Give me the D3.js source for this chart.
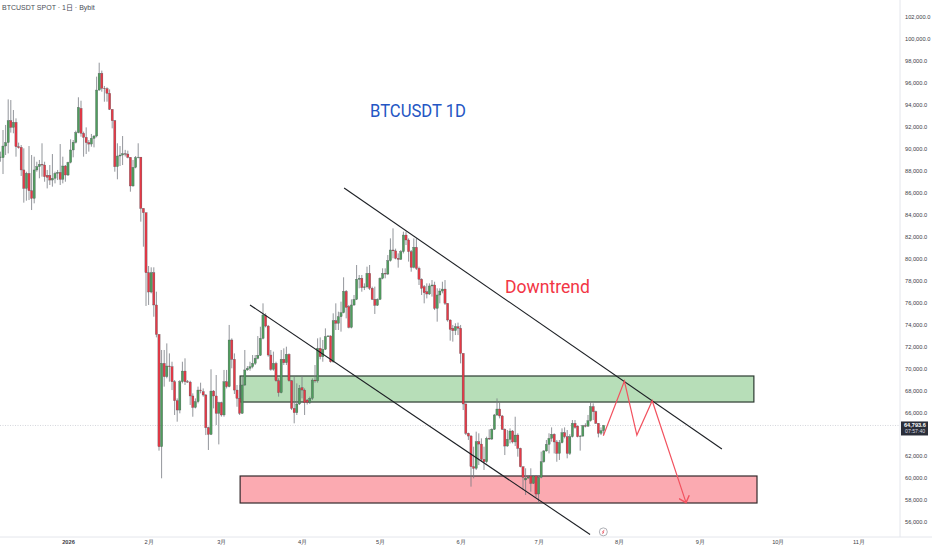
<!DOCTYPE html>
<html lang="zh">
<head>
  <meta charset="UTF-8">
  <title>BTCUSDT 1D</title>
  <style>
    body { margin: 0; background: #fff; }
    svg { display: block; }
    .axis text { font-family: "Liberation Sans", Arial, sans-serif; font-size: 5.7px; fill: #3c4048; }
    .axis path { stroke: #e4e6ec; }
  </style>
  <script src="https://d3js.org/d3.v7.min.js"></script>
</head>
<body>
  <svg width="932" height="550"></svg>
  <script>
    // daily candles, first one is 6 Dec 2025
    const opens = [
      89200,89190,90250,90560,92560,91950,92410,90190,90130,88070,
      86390,87760,86180,85480,88070,88370,88580,88520,87580,87580,
      87150,87310,87760,87850,87220,88430,87610,88760,89890,90590,
      91470,93680,91410,91040,90560,90430,90950,91160,95350,96870,
      95510,95480,95050,93590,92560,88370,89340,89430,89550,89520,89220,
      86610,88310,89190,89240,84570,84180,78710,76950,78710,75770,
      73090,62860,70450,69240,70210,70150,68780,67050,66200,68780,
      69750,68780,68750,67480,66440,66960,68020,67870,67570,64590,
      63980,67930,67480,65900,66870,65750,68780,68330,72580,70820,
      68020,67260,65900,68480,69850,70000,70150,70450,70910,71180,72730,
      74800,73850,71210,69910,70450,68870,67780,70820,70510,71270,
      68870,66350,65960,66750,68240,68020,67110,66900,67260,68930,
      68850,71820,71060,71730,72880,72950,70600,74340,74100,74700,
      75070,77010,75620,73730,75770,76280,78110,78200,77350,77420,
      78650,77290,76280,75740,76280,78200,78650,78590,79810,80780,
      80700,80020,79930,80630,82140,81690,80630,79200,81020,79110,
      78110,77440,76980,76770,77500,77590,75460,76680,77040,77220,
      75920,74400,73640,73430,73790,73650,71360,66750,64080,63830,
      61040,60890,63320,63100,61710,61490,63620,63560,64440,65750,
      66290,65660,64440,62920,63530,64290,63290,63920,62710,61040,
      59830,60000,60190,59520,60190,58550,60070,61490,62470,63070,
      63620,63990,63290,62250,63230,64140,63770,62250,63770,64990,
      64740,63770,63830,64770,64720,65230,66510,66050,64990,64080,64320
    ];
    const highs = [
      89740,91710,92170,94500,94440,93530,92770,90560,90340,90040,
      87910,90250,89430,89280,88820,88980,90500,88820,88070,88520,
      89520,87910,88070,90430,89280,88520,88820,90860,90800,91650,
      94690,94380,91560,91950,90800,91350,91250,96570,97840,97120,
      95720,95600,95410,93590,92620,90500,90250,91160,89900,89830,89220,
      88980,89340,90500,89240,84570,84180,79320,79200,79200,76980,
      73090,71670,71670,72270,71360,70600,68930,67260,68930,70600,
      70910,68930,68870,67720,67260,68330,68690,68170,67660,64680,
      69910,68020,69390,66960,66960,69850,69850,73950,72730,71360,
      68480,68480,69240,71670,70200,70600,71210,71210,72940,73790,75920,
      75010,73950,71670,71520,70600,69090,71670,71820,71970,71360,
      68930,69240,68630,68480,69300,68170,67200,67420,69090,70300,
      72730,72820,72580,73640,73000,73000,75010,75920,75160,76070,
      78290,77130,75770,76280,76680,79410,78500,78500,77740,79260,
      79410,77440,77440,76370,78290,79110,79110,80320,81840,82750,
      80900,80470,80780,82450,82450,81840,80780,81840,81840,79260,
      78200,77590,77740,77740,78040,77890,77290,77290,77890,78040,
      75920,74460,73950,74100,74160,73950,71360,66810,64140,63920,
      62860,64230,64080,63620,62860,63770,64440,64530,65840,67260,
      66960,65750,64530,64380,64530,64380,65590,64080,62770,61040,
      60890,60250,60890,60280,60280,60280,62410,62560,63470,64080,
      64620,64080,63470,63470,64530,64620,64380,64000,65290,65290,
      64800,63920,64840,64990,65750,66960,66810,66140,65000,64620,64840
    ];
    const lows = [
      88820,87700,89430,89580,91470,91410,89280,90010,87520,85090,
      85270,85330,84420,85030,87910,87310,87460,87000,86390,86700,
      86550,86850,87150,86700,86850,87000,87520,88670,89220,90490,
      91410,91100,89280,89520,89740,90190,90130,91040,95290,95200,
      94290,94290,93530,91860,87910,87220,88430,88520,89300,89130,86090,
      86550,88220,89130,83360,81080,75680,75770,76830,74700,72820,
      62500,59980,68330,69090,68780,68020,65750,65140,65900,68630,
      68480,68690,66660,65590,66350,66810,67720,67420,63920,62560,
      63920,66350,64830,63070,65600,65590,68170,68270,70000,67660,
      66500,65750,65840,68390,69780,69780,70000,70300,70820,71120,72640,
      73730,71060,69780,69780,68780,67420,67720,70300,70300,68780,
      66200,64990,65750,66660,67260,65750,66700,66750,67110,68690,
      68690,70820,70600,71670,72850,70510,70510,73490,73490,73340,
      75010,74550,73640,73640,75680,76220,77290,76980,77130,77290,
      77130,76220,74950,75680,76220,78110,78200,78500,79720,80020,
      79930,79170,79870,80470,81230,79720,78800,79110,78960,77590,
      76680,75920,76370,76680,76530,75310,74250,75920,76830,75770,
      74250,72520,72430,73030,73030,70450,66200,63920,63470,59220,
      59980,60740,61190,61490,60740,61340,63470,63470,64380,65660,
      65440,64380,62100,62860,63160,63160,62920,61950,60980,58910,
      58460,59950,58760,59460,58250,57700,59980,61400,62410,62250,
      63320,62250,61490,61650,63160,63620,61800,62100,63700,64500,
      63710,62500,63770,64620,64700,65140,65290,64930,63710,63920,63920
    ];
    const closes = [
      89250,90250,90560,92560,91950,92410,90190,90100,88070,86390,
      87760,86180,85480,88070,88370,88580,88520,87460,87400,87150,
      87310,87760,87850,87220,88430,87610,88760,89890,90590,91470,
      93770,91410,91040,90560,90430,90950,91160,95350,96870,95510,
      95480,95050,93590,92560,88370,89340,89430,89550,89520,89220,86610,
      88310,89190,89240,84570,84180,78710,76950,78710,75770,73090,
      62860,70450,69240,70210,70150,68780,67050,66200,68780,69750,
      68780,68750,67480,66440,66960,68020,67960,67570,64590,63980,
      67930,67480,65900,66870,65750,68780,68330,72580,70820,68020,
      67260,65900,68480,69850,70000,70150,70450,70910,71180,72730,74860,
      73850,71210,69910,70450,68870,67780,70820,70510,71270,68870,
      66350,65960,66750,68170,68020,66870,66900,67260,68930,68850,
      71820,71060,71730,72880,72950,70600,74340,74100,74700,75070,
      77010,75550,73730,75770,76280,78110,78200,77350,77420,78650,
      77290,76280,75740,76280,78200,78650,78590,79810,80780,80700,
      80020,79930,80630,82140,81690,80630,79200,81020,79110,78110,
      77290,76890,76770,77500,77590,75460,76680,77040,77220,75920,
      74400,73550,73430,73790,73650,71360,66750,64080,63830,61040,
      60890,63320,63100,61710,61490,63620,63560,64440,65750,66290,
      65660,64440,62920,63530,64290,63290,63920,62710,61040,60070,
      60000,60100,59520,60190,58550,60070,61490,62470,63070,63620,
      63990,63290,62250,63230,64140,63770,62250,63770,64990,64620,
      63770,63830,64770,64720,65230,66510,66050,64990,64080,64320,64794
    ];

    const monthLabels = ["2026","2月","3月","4月","5月","6月","7月","8月","9月","10月","11月"];
    // 64,000 sits behind the last price tag in the reference, so it is left out
    const priceTicks = d3.range(56000, 102001, 2000).filter(p => p !== 64000);
    const lastPrice = 64793.6;

    // drawings: x in days from 1 Jan 2026, y in price
    const trendDays = [106.2, 251.5];
    const trendPrices = [86430, 62650];
    const channelDays = [70, 200.8];
    const channelPrices = [75770, 54860];
    const greenZoneDays = [66.2, 263.8];
    const greenZonePrices = [69300, 66930];
    const redZoneDays = [66.2, 265];
    const redZonePrices = [60190, 57730];
    const pathDays = [205.9, 214, 218.8, 224.7, 237.7];
    const pathPrices = [63860, 68840, 63920, 67050, 57760];

    const upColor = "#4f9d5d", downColor = "#e53946", edge = "#4a4e54", wick = "#777b81";

    const svg = d3.select("svg");
    const jan1 = new Date(2026, 0, 1);
    const dayDate = d => new Date(jan1.getTime() + d * 864e5);

    const x = d3.scaleTime()
      .domain([jan1, new Date(2026, 10, 1)])
      .range([68, 68 + 304 * 2.6]);
    const y = d3.scaleLinear().domain([56000, 100000]).range([522, 39]);

    const rightEdge = 900, bottomEdge = 537;

    // zones go under the candles
    svg.append("rect")
      .attr("x", x(dayDate(greenZoneDays[0])))
      .attr("y", y(greenZonePrices[0]))
      .attr("width", x(dayDate(greenZoneDays[1])) - x(dayDate(greenZoneDays[0])))
      .attr("height", y(greenZonePrices[1]) - y(greenZonePrices[0]))
      .attr("fill", "#b7deb8").attr("stroke", "#2c3a30").attr("stroke-width", 1.2);
    svg.append("rect")
      .attr("x", x(dayDate(redZoneDays[0])))
      .attr("y", y(redZonePrices[0]))
      .attr("width", x(dayDate(redZoneDays[1])) - x(dayDate(redZoneDays[0])))
      .attr("height", y(redZonePrices[1]) - y(redZonePrices[0]))
      .attr("fill", "#fbaab1").attr("stroke", "#33292b").attr("stroke-width", 1.2);

    // last price dotted line
    svg.append("line")
      .attr("x1", 0).attr("x2", rightEdge)
      .attr("y1", y(lastPrice)).attr("y2", y(lastPrice))
      .attr("stroke", "#b9bcc4").attr("stroke-width", 0.6).attr("stroke-dasharray", "1 1.5");

    // candles
    const candles = d3.range(closes.length).map(i => ({
      date: d3.timeDay.offset(new Date(2025, 11, 6), i),
      o: opens[i], h: highs[i], l: lows[i], c: closes[i]
    }));
    const g = svg.append("g");
    g.selectAll("line").data(candles).enter().append("line")
      .attr("x1", d => x(d.date)).attr("x2", d => x(d.date))
      .attr("y1", d => y(d.h)).attr("y2", d => y(d.l))
      .attr("stroke", wick).attr("stroke-width", 0.8);
    g.selectAll("rect").data(candles).enter().append("rect")
      .attr("x", d => x(d.date) - 1.1)
      .attr("width", 2.2)
      .attr("y", d => y(Math.max(d.o, d.c)))
      .attr("height", d => Math.max(0.5, Math.abs(y(d.o) - y(d.c))))
      .attr("fill", d => d.c >= d.o ? upColor : downColor)
      .attr("stroke", edge).attr("stroke-width", 0.3);

    // trend lines
    const line = d3.line().x(d => x(dayDate(d[0]))).y(d => y(d[1]));
    svg.append("path").attr("d", line(d3.zip(trendDays, trendPrices)))
      .attr("fill", "none").attr("stroke", "#1c1f24").attr("stroke-width", 1.1);
    svg.append("path").attr("d", line(d3.zip(channelDays, channelPrices)))
      .attr("fill", "none").attr("stroke", "#1c1f24").attr("stroke-width", 1.1);

    // projected path with an open arrow head
    svg.append("defs").append("marker")
      .attr("id", "head").attr("viewBox", "-6 -5 7 10")
      .attr("markerUnits", "userSpaceOnUse")
      .attr("markerWidth", 9).attr("markerHeight", 12)
      .attr("orient", "auto")
      .append("path").attr("d", "M-5,-4.5L0,0L-5,4.5")
      .attr("fill", "none").attr("stroke", "#f2525f").attr("stroke-width", 1.2);
    svg.append("path").attr("d", line(d3.zip(pathDays, pathPrices)))
      .attr("fill", "none").attr("stroke", "#f2525f").attr("stroke-width", 1.2)
      .attr("marker-end", "url(#head)");

    // axes
    const monthTicks = monthLabels.map((m, i) => new Date(2026, i, 1));
    const xAxis = d3.axisBottom(x).tickValues(monthTicks).tickSize(0).tickPadding(3)
      .tickFormat((d, i) => monthLabels[i]);
    const yAxis = d3.axisRight(y).tickValues(priceTicks).tickSize(0).tickPadding(5)
      .tickFormat(d3.format(",.1f"));

    svg.append("line").attr("x1", 0).attr("x2", 932)
      .attr("y1", bottomEdge).attr("y2", bottomEdge).attr("stroke", "#e4e6ec");
    svg.append("line").attr("x1", rightEdge).attr("x2", rightEdge)
      .attr("y1", 0).attr("y2", bottomEdge).attr("stroke", "#e4e6ec");
    const gx = svg.append("g").attr("class", "axis")
      .attr("transform", `translate(0,${bottomEdge})`).call(xAxis);
    gx.select(".domain").remove();
    gx.selectAll("text").filter((d, i) => i === 0).attr("font-weight", "bold");
    const gy = svg.append("g").attr("class", "axis")
      .attr("transform", `translate(${rightEdge},0)`).call(yAxis);
    gy.select(".domain").remove();

    // last price tag
    const tagY = y(lastPrice);
    svg.append("rect").attr("x", rightEdge + 1).attr("y", tagY - 4)
      .attr("width", 27).attr("height", 14).attr("fill", "#2a2e39");
    svg.append("text").attr("x", rightEdge + 4).attr("y", tagY + 2)
      .attr("font-family", "Liberation Sans").attr("font-size", 5.6).attr("font-weight", "bold")
      .attr("fill", "#fff").text(d3.format(",.1f")(lastPrice));
    svg.append("text").attr("x", rightEdge + 5).attr("y", tagY + 8)
      .attr("font-family", "Liberation Sans").attr("font-size", 5.2)
      .attr("fill", "#d8dae0").text("07:57:40");

    // titles and notes, the note font in the reference is narrower than Roboto
    svg.append("text").attr("x", 2).attr("y", 10)
      .attr("font-family", "Liberation Sans, Noto Sans CJK SC").attr("font-size", 7)
      .attr("fill", "#4a4e57").text("BTCUSDT SPOT · 1日 · Bybit");
    svg.append("text").attr("x", 370).attr("y", 117)
      .attr("font-family", "Roboto").attr("font-size", 18)
      .attr("textLength", 96).attr("lengthAdjust", "spacingAndGlyphs")
      .attr("fill", "#2456c4").text("BTCUSDT 1D");
    svg.append("text").attr("x", 505).attr("y", 293)
      .attr("font-family", "Roboto").attr("font-size", 18)
      .attr("textLength", 85).attr("lengthAdjust", "spacingAndGlyphs")
      .attr("fill", "#f23645").text("Downtrend");

    // small event mark near the axis
    const mark = svg.append("g").attr("transform", `translate(${x(dayDate(205.9))},${y(55100)})`);
    mark.append("circle").attr("r", 4).attr("fill", "#fff")
      .attr("stroke", "#9a9da5").attr("stroke-width", 0.8);
    mark.append("path").attr("d", "M1,-2L-1,0.3L0.6,0L-1,2.2")
      .attr("fill", "none").attr("stroke", "#e2404d").attr("stroke-width", 0.7);
  </script>
</body>
</html>
